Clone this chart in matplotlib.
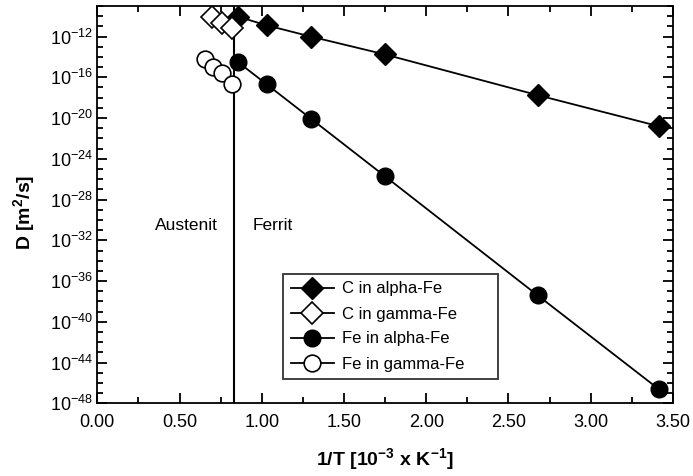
import numpy as np
import matplotlib
matplotlib.use("Agg")
import matplotlib.pyplot as plt
from matplotlib.ticker import FixedLocator, FuncFormatter, MultipleLocator

plt.rcParams['font.family'] = ['Liberation Sans', 'DejaVu Sans']

# 1/T values [10^-3 K^-1] and log10(D)
x_alpha = [0.855, 1.031, 1.298, 1.748, 2.677, 3.413]
logD_c_alpha = [-10.05, -10.9, -12.0, -13.75, -17.75, -20.8]
logD_fe_alpha = [-14.5, -16.7, -20.05, -25.7, -37.4, -46.6]

x_c_gamma = [0.696, 0.760, 0.820]
logD_c_gamma = [-10.05, -10.7, -11.2]

x_fe_gamma = [0.654, 0.705, 0.759, 0.820]
logD_fe_gamma = [-14.2, -14.95, -15.6, -16.65]

x_boundary = 0.83

fig = plt.figure(figsize=(6.93, 4.76), dpi=100)
ax = fig.add_axes([0.1404, 0.1527, 0.8307, 0.8347])

def pw(v):
    return [10.0 ** a for a in v]

ax.plot(x_alpha, pw(logD_c_alpha), '-', color='black', lw=1.3, marker='D',
        ms=11, mfc='black', mec='black', label='C in alpha-Fe', zorder=3)
ax.plot(x_c_gamma, pw(logD_c_gamma), '-', color='black', lw=1.3, marker='D',
        ms=11, mfc='white', mec='black', mew=1.2, label='C in gamma-Fe', zorder=3)
ax.plot(x_alpha, pw(logD_fe_alpha), '-', color='black', lw=1.3, marker='o',
        ms=12, mfc='black', mec='black', label='Fe in alpha-Fe', zorder=3)
ax.plot(x_fe_gamma, pw(logD_fe_gamma), '-', color='black', lw=1.3, marker='o',
        ms=12, mfc='white', mec='black', mew=1.2, label='Fe in gamma-Fe', zorder=3)

ax.axvline(x_boundary, color='black', lw=1.5, zorder=2)

ax.set_yscale('log')
ax.set_xlim(0, 3.5)
ax.set_ylim(1e-48, 1e-9)

ax.yaxis.set_major_locator(FixedLocator(10.0 ** np.arange(-48, -11, 4)))
ax.yaxis.set_minor_locator(FixedLocator(10.0 ** np.arange(-48, -8, 1)))
ax.yaxis.set_major_formatter(FuncFormatter(
    lambda v, p: r'$\mathregular{10^{%d}}$' % round(np.log10(v))))
ax.yaxis.set_minor_formatter(FuncFormatter(lambda v, p: ''))

ax.xaxis.set_major_locator(MultipleLocator(0.5))
ax.xaxis.set_minor_locator(MultipleLocator(0.25))
ax.xaxis.set_major_formatter(FuncFormatter(lambda v, p: '%.2f' % v))

ax.tick_params(which='both', direction='in', top=True, right=True,
               labelsize=13, width=1.3)
ax.tick_params(which='major', length=7)
ax.tick_params(which='minor', length=4)
ax.tick_params(axis='x', pad=8)
ax.tick_params(axis='y', pad=3)
for s in ax.spines.values():
    s.set_linewidth(1.3)

ax.text(186 / 693, 1 - 225 / 476, 'Austenit', fontsize=12.5, ha='center',
        va='center', transform=fig.transFigure)
ax.text(273 / 693, 1 - 225 / 476, 'Ferrit', fontsize=12.5, ha='center',
        va='center', transform=fig.transFigure)

ax.set_xlabel(r'1/T [10$^{\mathregular{-3}}$ x K$^{\mathregular{-1}}$]',
              fontsize=14, fontweight='bold', labelpad=11)
ax.set_ylabel(r'D [m$^{\mathregular{2}}$/s]', fontsize=14, fontweight='bold')
ax.yaxis.set_label_coords(-0.103, 0.48)

leg = ax.legend(loc='center', bbox_to_anchor=(283 / 693, 1 - 389 / 476,
                                              215 / 693, 125 / 476),
                bbox_transform=fig.transFigure, mode='expand',
                fontsize=12, frameon=True, fancybox=False,
                edgecolor='black', handlelength=2.6, borderpad=0.45,
                borderaxespad=0, labelspacing=0.6, handletextpad=0.5)
leg.get_frame().set_linewidth(1.3)

fig.savefig('out.png', dpi=100)
